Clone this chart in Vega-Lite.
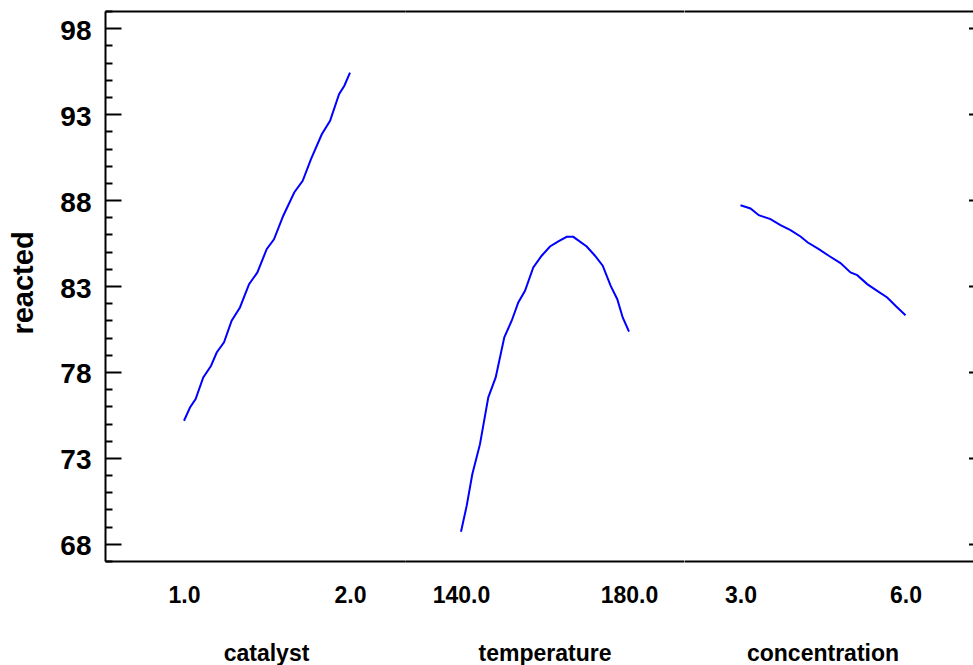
{
  "$schema": "https://vega.github.io/schema/vega-lite/v6.json",
  "padding": {"left": 9, "top": 0, "right": 0, "bottom": 0},
  "background": "white",
  "config": {
    "view": {"stroke": null},
    "font": "Liberation Sans",
    "axis": {"grid": false, "labelFlush": false, "labelOverlap": false, "labelBound": false}
  },
  "data": {"values": [
    {"factor": "catalyst", "level": 1.0, "reacted": 75.16},
    {"factor": "catalyst", "level": 1.036, "reacted": 75.93},
    {"factor": "catalyst", "level": 1.070, "reacted": 76.42},
    {"factor": "catalyst", "level": 1.116, "reacted": 77.68},
    {"factor": "catalyst", "level": 1.163, "reacted": 78.36},
    {"factor": "catalyst", "level": 1.197, "reacted": 79.13},
    {"factor": "catalyst", "level": 1.241, "reacted": 79.72},
    {"factor": "catalyst", "level": 1.287, "reacted": 80.98},
    {"factor": "catalyst", "level": 1.337, "reacted": 81.75},
    {"factor": "catalyst", "level": 1.392, "reacted": 83.11},
    {"factor": "catalyst", "level": 1.442, "reacted": 83.79},
    {"factor": "catalyst", "level": 1.498, "reacted": 85.14},
    {"factor": "catalyst", "level": 1.542, "reacted": 85.72},
    {"factor": "catalyst", "level": 1.598, "reacted": 87.09},
    {"factor": "catalyst", "level": 1.664, "reacted": 88.44},
    {"factor": "catalyst", "level": 1.715, "reacted": 89.12},
    {"factor": "catalyst", "level": 1.765, "reacted": 90.38},
    {"factor": "catalyst", "level": 1.830, "reacted": 91.83},
    {"factor": "catalyst", "level": 1.880, "reacted": 92.61},
    {"factor": "catalyst", "level": 1.934, "reacted": 94.16},
    {"factor": "catalyst", "level": 1.966, "reacted": 94.65},
    {"factor": "catalyst", "level": 2.0, "reacted": 95.42},
    {"factor": "temperature", "level": 140.0, "reacted": 68.70},
    {"factor": "temperature", "level": 141.36, "reacted": 70.22},
    {"factor": "temperature", "level": 142.69, "reacted": 72.05},
    {"factor": "temperature", "level": 144.52, "reacted": 73.80},
    {"factor": "temperature", "level": 146.5, "reacted": 76.52},
    {"factor": "temperature", "level": 148.26, "reacted": 77.68},
    {"factor": "temperature", "level": 150.31, "reacted": 80.01},
    {"factor": "temperature", "level": 152.07, "reacted": 80.98},
    {"factor": "temperature", "level": 153.64, "reacted": 82.04},
    {"factor": "temperature", "level": 155.24, "reacted": 82.72},
    {"factor": "temperature", "level": 157.21, "reacted": 84.08},
    {"factor": "temperature", "level": 159.21, "reacted": 84.76},
    {"factor": "temperature", "level": 161.19, "reacted": 85.30},
    {"factor": "temperature", "level": 163.17, "reacted": 85.59},
    {"factor": "temperature", "level": 165.17, "reacted": 85.86},
    {"factor": "temperature", "level": 166.74, "reacted": 85.86},
    {"factor": "temperature", "level": 169.93, "reacted": 85.30},
    {"factor": "temperature", "level": 171.9, "reacted": 84.76},
    {"factor": "temperature", "level": 173.74, "reacted": 84.18},
    {"factor": "temperature", "level": 175.64, "reacted": 83.01},
    {"factor": "temperature", "level": 177.21, "reacted": 82.23},
    {"factor": "temperature", "level": 178.5, "reacted": 81.17},
    {"factor": "temperature", "level": 180.0, "reacted": 80.34},
    {"factor": "concentration", "level": 3.0, "reacted": 87.70},
    {"factor": "concentration", "level": 3.182, "reacted": 87.51},
    {"factor": "concentration", "level": 3.333, "reacted": 87.12},
    {"factor": "concentration", "level": 3.545, "reacted": 86.89},
    {"factor": "concentration", "level": 3.727, "reacted": 86.54},
    {"factor": "concentration", "level": 3.909, "reacted": 86.25},
    {"factor": "concentration", "level": 4.091, "reacted": 85.88},
    {"factor": "concentration", "level": 4.224, "reacted": 85.53},
    {"factor": "concentration", "level": 4.424, "reacted": 85.14},
    {"factor": "concentration", "level": 4.605, "reacted": 84.76},
    {"factor": "concentration", "level": 4.818, "reacted": 84.33},
    {"factor": "concentration", "level": 5.0, "reacted": 83.79},
    {"factor": "concentration", "level": 5.122, "reacted": 83.63},
    {"factor": "concentration", "level": 5.304, "reacted": 83.11},
    {"factor": "concentration", "level": 5.485, "reacted": 82.72},
    {"factor": "concentration", "level": 5.667, "reacted": 82.33},
    {"factor": "concentration", "level": 5.818, "reacted": 81.85},
    {"factor": "concentration", "level": 6.0, "reacted": 81.30}
  ]},
  "spacing": 0,
  "bounds": "full",
  "align": "each",
  "resolve": {"scale": {"x": "independent", "y": "independent"}, "axis": {"x": "independent", "y": "independent"}},
  "hconcat": [
    {
      "width": 300, "height": 550,
      "transform": [{"filter": "datum.factor == 'catalyst'"}],
      "layer": [
        {
          "mark": {"type": "line", "strokeOpacity": 0},
          "encoding": {
            "x": {"field": "level", "type": "quantitative",
              "axis": {"orient": "top", "labels": false, "ticks": false, "title": null,
                "domainColor": "black", "domainWidth": 2}}
          }
        },
        {
          "mark": {"type": "line", "color": "#0000FF", "strokeWidth": 2},
          "encoding": {
            "x": {"field": "level", "type": "quantitative",
              "scale": {"domain": [0.5241, 2.3313], "nice": false, "zero": false},
              "axis": {"orient": "bottom", "values": [1, 2], "format": ".1f", "ticks": false,
                "domainColor": "black", "domainWidth": 2,
                "labelFontSize": 23, "labelFontWeight": "bold", "labelColor": "black",
                "labelBaseline": "alphabetic", "labelPadding": 41,
                "title": "catalyst", "titleFontSize": 23, "titleFontWeight": "bold", "titleColor": "black",
                "titleX": 161, "titleY": 99, "titleBaseline": "alphabetic", "titleAlign": "center"}},
            "y": {"field": "reacted", "type": "quantitative",
              "scale": {"domain": [67, 99], "nice": false, "zero": false},
              "axis": {"orient": "left",
                "values": [67,68,69,70,71,72,73,74,75,76,77,78,79,80,81,82,83,84,85,86,87,88,89,90,91,92,93,94,95,96,97,98,99],
                "labelExpr": "(datum.value - 68) % 5 == 0 ? datum.label : ''",
                "tickSize": {"condition": {"test": "(datum.value - 68) % 5 == 0", "value": -16}, "value": -7},
                "tickColor": "black", "tickWidth": 2,
                "domainColor": "black", "domainWidth": 2,
                "labelFontSize": 28, "labelFontWeight": "bold", "labelColor": "black",
                "labelPadding": 30, "labelOffset": 3,
                "title": "reacted", "titleFontSize": 29, "titleFontWeight": "bold", "titleColor": "black",
                "titleX": -73, "titleY": 271.5, "titleBaseline": "alphabetic", "titleAlign": "center", "titleAngle": -90}}
          }
        }
      ],
      "resolve": {"axis": {"x": "independent"}}
    },
    {
      "width": 278.5, "height": 550,
      "transform": [{"filter": "datum.factor == 'temperature'"}],
      "layer": [
        {
          "mark": {"type": "line", "strokeOpacity": 0},
          "encoding": {
            "x": {"field": "level", "type": "quantitative",
              "axis": {"orient": "top", "labels": false, "ticks": false, "title": null,
                "domainColor": "black", "domainWidth": 2}}
          }
        },
        {
          "mark": {"type": "line", "color": "#0000FF", "strokeWidth": 2},
          "encoding": {
            "x": {"field": "level", "type": "quantitative",
              "scale": {"domain": [126.667, 192.976], "nice": false, "zero": false},
              "axis": {"orient": "bottom", "values": [140, 180], "format": ".1f", "ticks": false,
                "domainColor": "black", "domainWidth": 2,
                "labelFontSize": 23, "labelFontWeight": "bold", "labelColor": "black",
                "labelBaseline": "alphabetic", "labelPadding": 41,
                "title": "temperature", "titleFontSize": 23, "titleFontWeight": "bold", "titleColor": "black",
                "titleX": 139.5, "titleY": 99, "titleBaseline": "alphabetic", "titleAlign": "center"}},
            "y": {"field": "reacted", "type": "quantitative",
              "scale": {"domain": [67, 99], "nice": false, "zero": false}, "axis": null}
          }
        }
      ],
      "resolve": {"axis": {"x": "independent"}}
    },
    {
      "width": 300.5, "height": 550,
      "transform": [{"filter": "datum.factor == 'concentration'"}],
      "layer": [
        {
          "mark": {"type": "line", "strokeOpacity": 0},
          "encoding": {
            "x": {"field": "level", "type": "quantitative",
              "axis": {"orient": "top", "labels": false, "ticks": false, "title": null,
                "domainColor": "black", "domainWidth": 2}}
          }
        },
        {
          "mark": {"type": "line", "color": "#0000FF", "strokeWidth": 2},
          "encoding": {
            "x": {"field": "level", "type": "quantitative",
              "scale": {"domain": [1.973, 7.436], "nice": false, "zero": false},
              "axis": {"orient": "bottom", "values": [3, 6], "format": ".1f", "ticks": false,
                "domainColor": "black", "domainWidth": 2,
                "labelFontSize": 23, "labelFontWeight": "bold", "labelColor": "black",
                "labelBaseline": "alphabetic", "labelPadding": 41,
                "title": "concentration", "titleFontSize": 23, "titleFontWeight": "bold", "titleColor": "black",
                "titleX": 138.5, "titleY": 99, "titleBaseline": "alphabetic", "titleAlign": "center"}},
            "y": {"field": "reacted", "type": "quantitative",
              "scale": {"domain": [67, 99], "nice": false, "zero": false},
              "axis": {"orient": "right",
                "values": [67,68,69,70,71,72,73,74,75,76,77,78,79,80,81,82,83,84,85,86,87,88,89,90,91,92,93,94,95,96,97,98,99],
                "labels": false, "title": null,
                "tickSize": {"condition": {"test": "(datum.value - 68) % 5 == 0", "value": -16}, "value": -7},
                "tickColor": "black", "tickWidth": 2,
                "domainColor": "black", "domainWidth": 2}}
          }
        }
      ],
      "resolve": {"axis": {"x": "independent"}}
    }
  ]
}
